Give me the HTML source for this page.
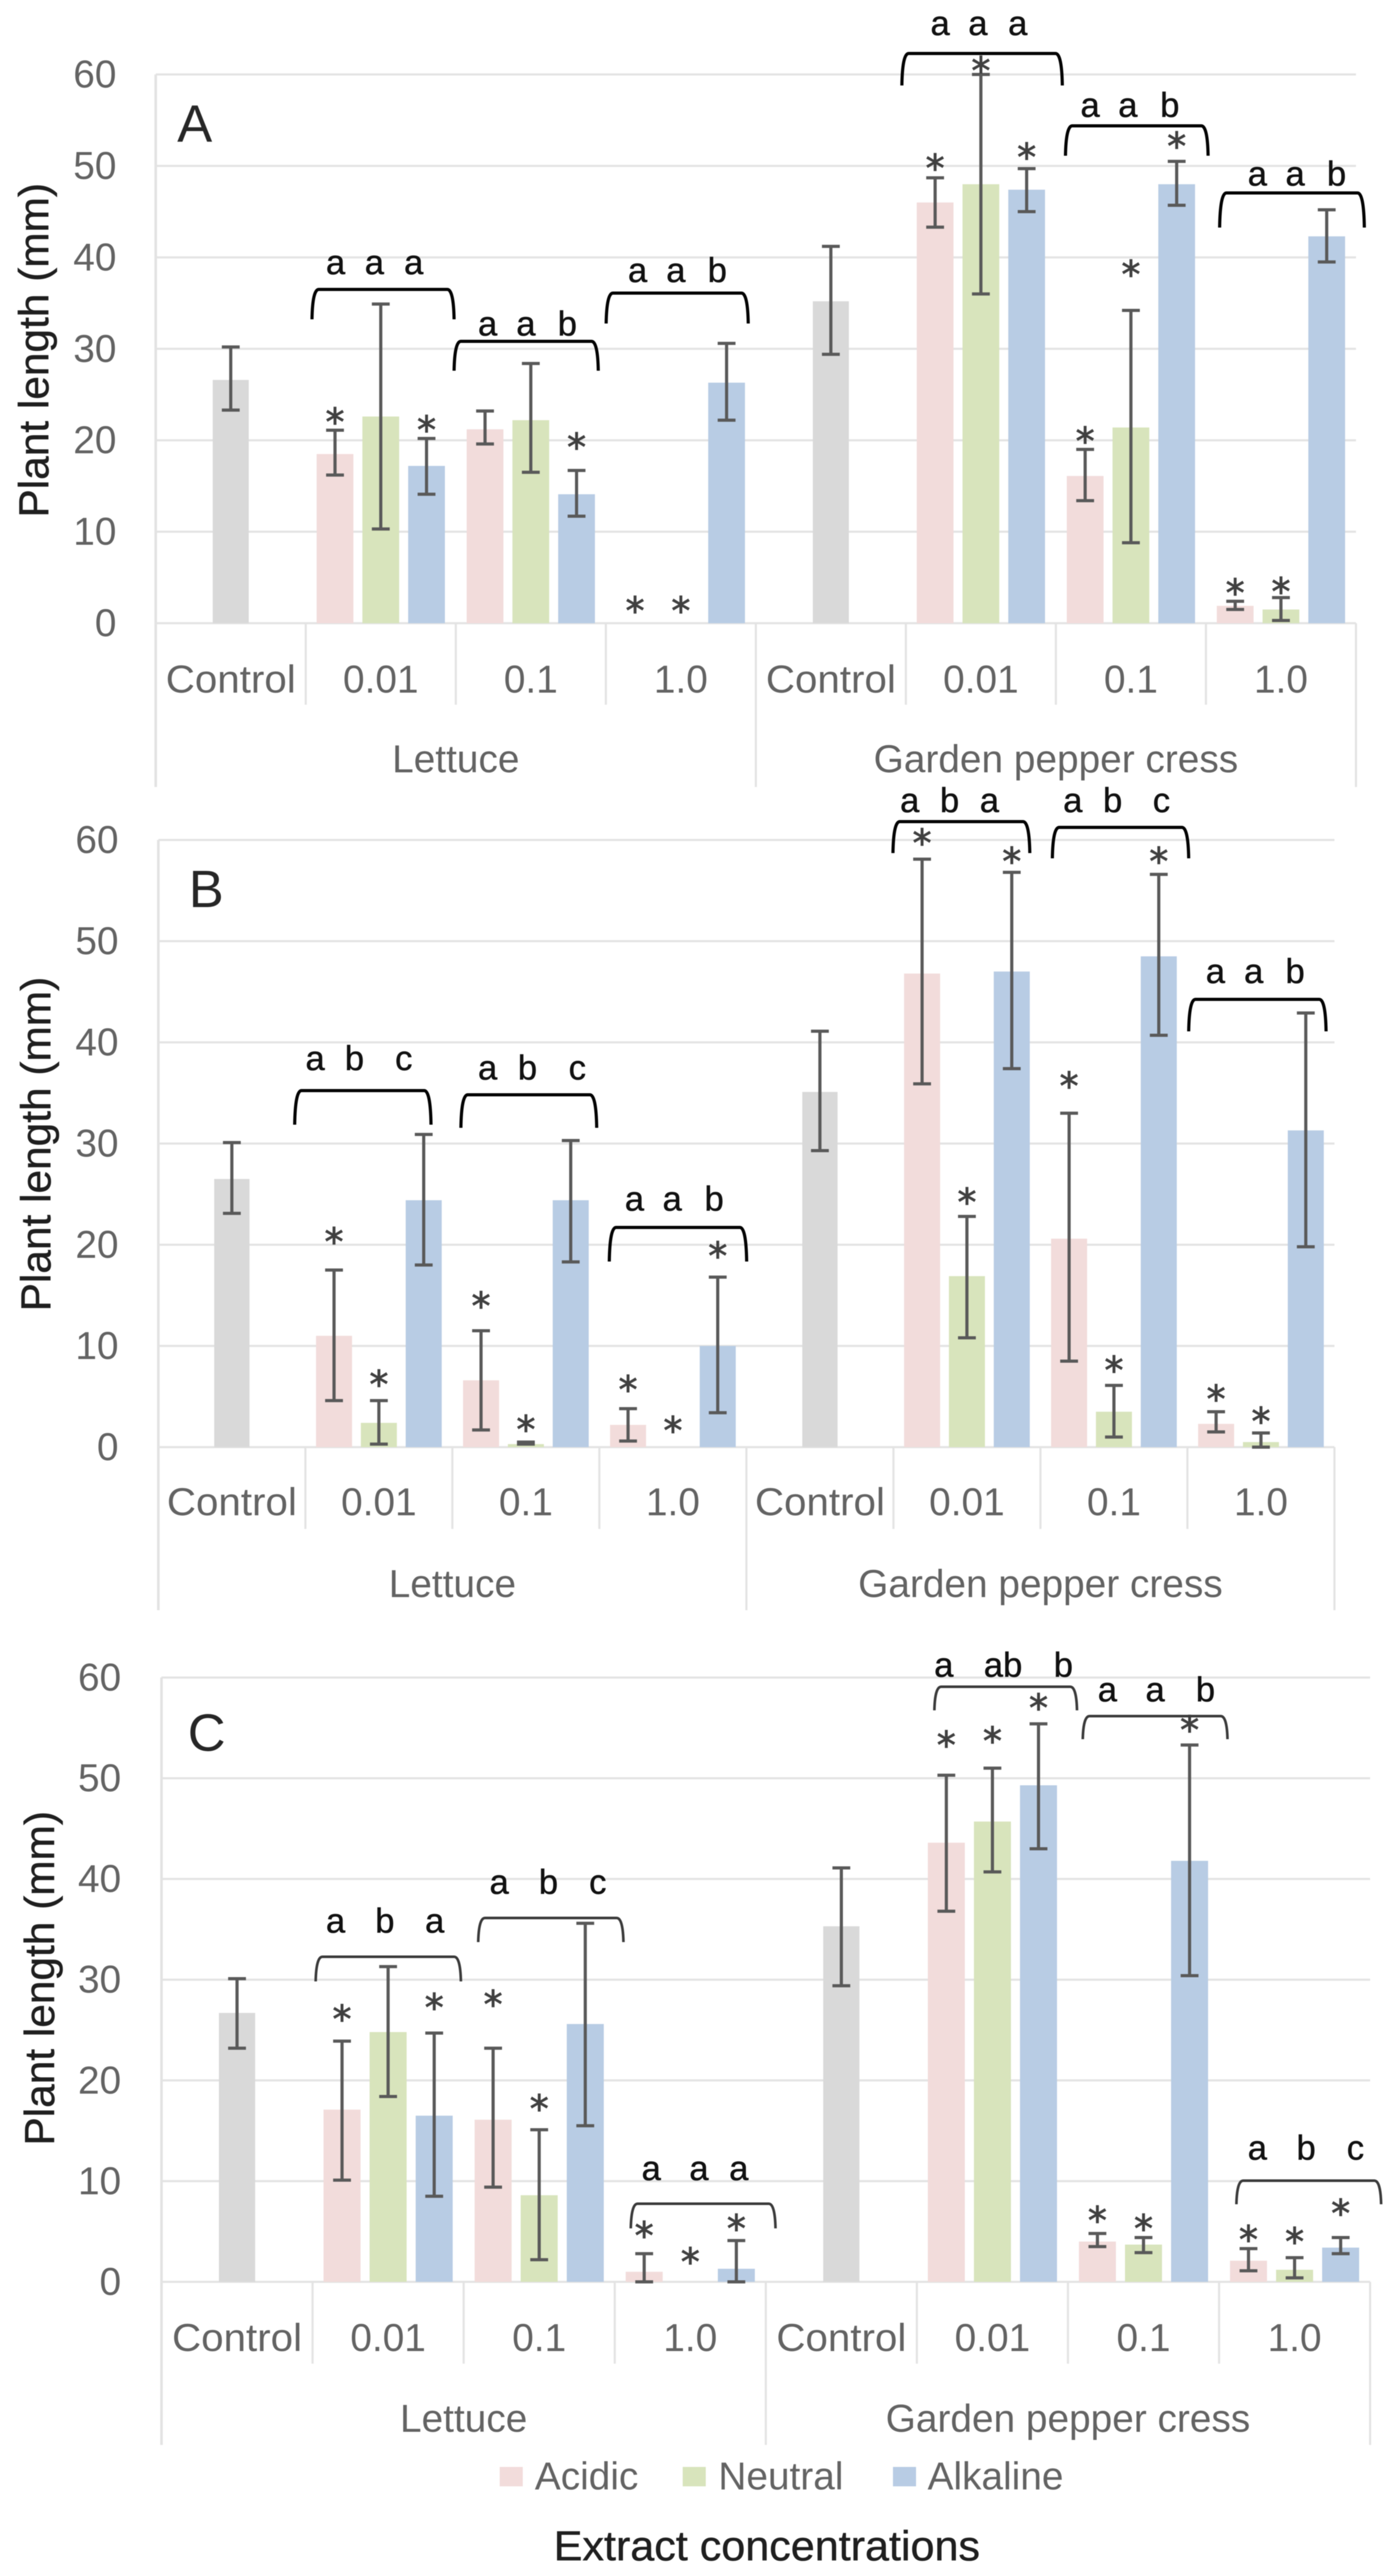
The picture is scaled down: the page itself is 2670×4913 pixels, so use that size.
<!DOCTYPE html>
<html lang="en">
<head>
<meta charset="utf-8">
<title>Plant length by extract concentration</title>
<style>
html,body{margin:0;padding:0;background:#fff;}
#chart{display:block;width:2670px;height:4913px;filter:blur(0.8px);}
text{font-family:"Liberation Sans",sans-serif;}
</style>
</head>
<body>
<svg id="chart" xmlns="http://www.w3.org/2000/svg" width="2670" height="4913" viewBox="0 0 2670 4913"></svg>
<script>
// ---------- shared labels ----------
const yTicks = [0, 10, 20, 30, 40, 50, 60];
const concentrationLabels = ["Control", "0.01", "0.1", "1.0", "Control", "0.01", "0.1", "1.0"];
const plantLabels = ["Lettuce", "Garden pepper cress"];
const legendLabels = ["Acidic", "Neutral", "Alkaline"];

// ---------- panel A values (order: Lettuce 0.01, 0.1, 1.0, Cress 0.01, 0.1, 1.0) ----------
const aControl = [26.6, 35.2];
const aControlHi = [30.2, 41.2];
const aControlLo = [23.3, 29.4];
const aAcidic = [18.5, 21.2, 0, 46, 16.1, 1.9];
const aAcidicHi = [21.1, 23.2, 0, 48.7, 19, 2.4];
const aAcidicLo = [16.2, 19.6, 0, 43.3, 13.4, 1.5];
const aNeutral = [22.6, 22.2, 0, 48, 21.4, 1.5];
const aNeutralHi = [34.9, 28.4, 0, 60, 34.2, 2.8];
const aNeutralLo = [10.3, 16.5, 0, 36, 8.8, 0.3];
const aAlkaline = [17.2, 14.1, 26.3, 47.4, 48, 42.3];
const aAlkalineHi = [20.2, 16.7, 30.6, 49.7, 50.5, 45.2];
const aAlkalineLo = [14.1, 11.7, 22.2, 45, 45.7, 39.5];
// height of each significance star above its whisker, in mm; null = no star
const aAcidicStar = [1.35, null, 1.8, 1.5, 1.35, 1.35];
const aNeutralStar = [null, null, 1.8, 0.85, 4.4, 1.1];
const aAlkalineStar = [1.4, 3.0, null, 1.7, 2.1, null];

// ---------- panel B values ----------
const bControl = [26.5, 35.1];
const bControlHi = [30.1, 41.1];
const bControlLo = [23.1, 29.3];
const bAcidic = [11, 6.6, 2.2, 46.8, 20.6, 2.3];
const bAcidicHi = [17.5, 11.5, 3.8, 58.1, 33, 3.5];
const bAcidicLo = [4.6, 1.7, 0.6, 35.9, 8.5, 1.5];
const bNeutral = [2.4, 0.3, 0, 16.9, 3.5, 0.5];
const bNeutralHi = [4.6, 0.5, 0, 22.8, 6.1, 1.4];
const bNeutralLo = [0.3, 0.3, 0, 10.8, 1, 0];
const bAlkaline = [24.4, 24.4, 10, 47, 48.5, 31.3];
const bAlkalineHi = [30.9, 30.3, 16.8, 56.8, 56.6, 42.9];
const bAlkalineLo = [18, 18.3, 3.4, 37.4, 40.7, 19.8];
const bAcidicStar = [3.2, 2.85, 2.3, 2, 3.1, 1.65];
const bNeutralStar = [2, 1.65, 2.05, 1.8, 1.9, 1.55];
const bAlkalineStar = [null, null, 2.5, 1.5, 1.7, null];

// ---------- panel C values ----------
const cControl = [26.7, 35.3];
const cControlHi = [30.1, 41.1];
const cControlLo = [23.2, 29.4];
const cAcidic = [17.1, 16.1, 1, 43.6, 4, 2.1];
const cAcidicHi = [23.9, 23.2, 2.8, 50.3, 4.8, 3.3];
const cAcidicLo = [10.1, 9.4, 0, 36.8, 3.5, 1.1];
const cNeutral = [24.8, 8.6, 0, 45.7, 3.7, 1.2];
const cNeutralHi = [31.3, 15.1, 0, 51, 4.4, 2.4];
const cNeutralLo = [18.4, 2.2, 0, 40.7, 2.9, 0.4];
const cAlkaline = [16.5, 25.6, 1.3, 49.3, 41.8, 3.4];
const cAlkalineHi = [24.7, 35.6, 4.1, 55.4, 53.3, 4.4];
const cAlkalineLo = [8.5, 15.5, 0, 43, 30.4, 2.8];
const cAcidicStar = [2.6, 4.75, 2.2, 3.4, 1.7, 1.3];
const cNeutralStar = [null, 2.5, 2.4, 3.1, 1.3, 2];
const cAlkalineStar = [2.95, null, 1.6, 2, 1.9, 2.8];

// ---------- styling ----------
const GRID = "#e3e3e3", ERR = "#595959", AXIS_TEXT = "#636363";
const COL_CONTROL = "#d9d9d9", COL_ACIDIC = "#f2dcdb", COL_NEUTRAL = "#d8e4bc", COL_ALKALINE = "#b8cce4";

const svg = document.getElementById("chart");
const NS = "http://www.w3.org/2000/svg";

function mk(tag, props, parent) {
  const el = document.createElementNS(NS, tag);
  for (const k in props) el.setAttribute(k, props[k]);
  (parent || svg).appendChild(el);
  return el;
}

function drawBar(g, x, w, value, hi, lo, star, fill, yOf, catName) {
  const bar = mk("rect", { x: x - w / 2, y: yOf(value), width: w, height: Math.max(0, yOf(0) - yOf(value)), fill: fill }, g);
  
  
  bar.setAttribute('aria-label', catName);
  if (hi > 0) {
    const stem = mk("line", { x1: x, x2: x, y1: yOf(hi), y2: yOf(lo), stroke: ERR, "stroke-width": 6 }, g);
    
    
    const capTop = mk("line", { x1: x - 17, x2: x + 17, y1: yOf(hi), y2: yOf(hi), stroke: ERR, "stroke-width": 6 }, g);
    
    
    const capBot = mk("line", { x1: x - 17, x2: x + 17, y1: yOf(lo), y2: yOf(lo), stroke: ERR, "stroke-width": 6 }, g);
    
    
  }
  if (star !== null && star !== undefined) {
    const s = mk("text", { x: x, y: yOf(hi + star) + 33, "text-anchor": "middle", "font-size": 72, fill: "#404040", stroke: "#404040", "stroke-width": 1.5, style: 'font-family:"DejaVu Sans",sans-serif' }, g);
    s.textContent = "*";
    
    
  }
}

function drawPanel(L, D) {
  const g = mk("g", {});
  
  
  const yOf = v => L.y0 - (v / 60) * (L.y0 - L.top);
  const catW = (L.right - L.left) / 8;
  const xOf = i => L.left + catW * i;

  // gridlines and tick labels
  yTicks.forEach(t => {
    const gl = mk("line", { x1: L.left, x2: L.right, y1: yOf(t), y2: yOf(t), stroke: GRID, "stroke-width": 4 }, g);
    
    
    const tl = mk("text", { x: L.tickX, y: yOf(t) + 25, "text-anchor": "end", "font-size": 74, fill: AXIS_TEXT }, g);
    tl.textContent = String(t);
    
    
  });

  // axis separators
  for (let i = 0; i <= 8; i++) {
    const long = i % 4 === 0;
    const sep = mk("line", { x1: xOf(i), x2: xOf(i), y1: i === 0 ? L.top : L.y0, y2: long ? L.longEnd : L.shortEnd, stroke: GRID, "stroke-width": 4 }, g);
    
    
  }
  const axisTop = mk("line", { x1: L.left, x2: L.left, y1: L.top, y2: L.longEnd, stroke: GRID, "stroke-width": 5 }, g);
  
  

  // category labels
  concentrationLabels.forEach((c, i) => {
    const t = mk("text", { x: xOf(i) + catW / 2, y: L.catBase, "text-anchor": "middle", "font-size": 74, fill: AXIS_TEXT }, g);
    if (c === "Control") { t.setAttribute("textLength", 248); t.setAttribute("lengthAdjust", "spacingAndGlyphs"); }
    t.textContent = c;
    
    
  });
  plantLabels.forEach((c, i) => {
    const t = mk("text", { x: xOf(i * 4 + 2), y: L.plantBase, "text-anchor": "middle", "font-size": 74, fill: AXIS_TEXT }, g);
    t.textContent = c;
    
    
  });

  // control bars
  D.control.forEach((v, i) => {
    const cat = i * 4;
    drawBar(g, xOf(cat) + catW / 2, catW * 0.24, v, D.controlHi[i], D.controlLo[i], null, COL_CONTROL, yOf, "control");
  });
  // treatment bars
  const treatmentCats = [1, 2, 3, 5, 6, 7];
  const off = catW * 0.305, w = catW * 0.245;
  treatmentCats.forEach((cat, i) => {
    const c = xOf(cat) + catW / 2;
    drawBar(g, c - off, w, D.acidic[i], D.acidicHi[i], D.acidicLo[i], D.acidicStar[i], COL_ACIDIC, yOf, "acidic");
    drawBar(g, c, w, D.neutral[i], D.neutralHi[i], D.neutralLo[i], D.neutralStar[i], COL_NEUTRAL, yOf, "neutral");
    drawBar(g, c + off, w, D.alkaline[i], D.alkalineHi[i], D.alkalineLo[i], D.alkalineStar[i], COL_ALKALINE, yOf, "alkaline");
  });

  // panel letter
  const pl = mk("text", { x: L.letterX, y: L.letterY, "font-size": 100, fill: "#262626" }, g);
  pl.textContent = L.letter;
  
  

  // y-axis title
  const yt = mk("text", { transform: "translate(" + L.titleX + "," + L.titleY + ") rotate(-90)", "text-anchor": "middle", "font-size": 80, fill: "#1f1f1f", stroke: "#1f1f1f", "stroke-width": 0.8, textLength: 638, lengthAdjust: "spacingAndGlyphs" }, g);
  yt.textContent = "Plant length (mm)";
  
  
  return g;
}

// significance bracket annotation with three letter labels
function bracket(x1, x2, yTop, yBot, base, x0a, x0b, x0c, la, lb, lc, color, sw) {
  const p = mk("path", { d: "M" + x1 + " " + yBot + " Q" + (x1 + 1) + " " + yTop + " " + (x1 + 13) + " " + yTop + " L" + (x2 - 13) + " " + yTop + " Q" + (x2 - 1) + " " + yTop + " " + x2 + " " + yBot, fill: "none", stroke: color || "#000", "stroke-width": sw || 6 });
  
  
  const t1 = mk("text", { x: x0a, y: base, "text-anchor": "middle", "font-size": 66, fill: "#111", stroke: "#111", "stroke-width": 0.8 });
  t1.textContent = la;
  
  
  const t2 = mk("text", { x: x0b, y: base, "text-anchor": "middle", "font-size": 66, fill: "#111", stroke: "#111", "stroke-width": 0.8 });
  t2.textContent = lb;
  
  
  const t3 = mk("text", { x: x0c, y: base, "text-anchor": "middle", "font-size": 66, fill: "#111", stroke: "#111", "stroke-width": 0.8 });
  t3.textContent = lc;
  
  
}

drawPanel(
  { left: 297, right: 2586, top: 142, y0: 1188.6, shortEnd: 1344, longEnd: 1501, tickX: 222, catBase: 1321, plantBase: 1473, letter: "A", letterX: 338, letterY: 270, titleX: 92, titleY: 668 },
  { control: aControl, controlHi: aControlHi, controlLo: aControlLo, acidic: aAcidic, acidicHi: aAcidicHi, acidicLo: aAcidicLo, neutral: aNeutral, neutralHi: aNeutralHi, neutralLo: aNeutralLo, alkaline: aAlkaline, alkalineHi: aAlkalineHi, alkalineLo: aAlkalineLo, acidicStar: aAcidicStar, neutralStar: aNeutralStar, alkalineStar: aAlkalineStar }
);
drawPanel(
  { left: 302, right: 2545, top: 1602, y0: 2760, shortEnd: 2916, longEnd: 3071, tickX: 226, catBase: 2890, plantBase: 3046, letter: "B", letterX: 360, letterY: 1730, titleX: 96, titleY: 2182 },
  { control: bControl, controlHi: bControlHi, controlLo: bControlLo, acidic: bAcidic, acidicHi: bAcidicHi, acidicLo: bAcidicLo, neutral: bNeutral, neutralHi: bNeutralHi, neutralLo: bNeutralLo, alkaline: bAlkaline, alkalineHi: bAlkalineHi, alkalineLo: bAlkalineLo, acidicStar: bAcidicStar, neutralStar: bNeutralStar, alkalineStar: bAlkalineStar }
);
drawPanel(
  { left: 308, right: 2613, top: 3199.4, y0: 4352, shortEnd: 4508, longEnd: 4663, tickX: 231, catBase: 4484, plantBase: 4638, letter: "C", letterX: 358, letterY: 3339, titleX: 103, titleY: 3773 },
  { control: cControl, controlHi: cControlHi, controlLo: cControlLo, acidic: cAcidic, acidicHi: cAcidicHi, acidicLo: cAcidicLo, neutral: cNeutral, neutralHi: cNeutralHi, neutralLo: cNeutralLo, alkaline: cAlkaline, alkalineHi: cAlkalineHi, alkalineLo: cAlkalineLo, acidicStar: cAcidicStar, neutralStar: cNeutralStar, alkalineStar: cAlkalineStar }
);

// Panel A brackets
bracket(595, 866, 552, 609, 523, 640, 714, 789, "a", "a", "a");
bracket(866, 1141, 651, 707, 640, 930, 1003, 1082, "a", "a", "b");
bracket(1156, 1427, 559, 617, 538, 1216, 1289, 1368, "a", "a", "b");
bracket(1720, 2026, 102, 163, 67, 1793, 1865, 1941, "a", "a", "a");
bracket(2032, 2304, 240, 297, 223, 2079, 2151, 2231, "a", "a", "b");
bracket(2326, 2602, 368, 434, 354, 2398, 2470, 2549, "a", "a", "b");
// Panel B brackets
bracket(562, 822, 2080, 2145, 2041, 601, 676, 770, "a", "b", "c");
bracket(879, 1138, 2088, 2151, 2059, 930, 1006, 1101, "a", "b", "c");
bracket(1162, 1424, 2341, 2406, 2309, 1210, 1282, 1362, "a", "a", "b");
bracket(1703, 1964, 1567, 1627, 1549, 1735, 1811, 1887, "a", "b", "a");
bracket(2007, 2267, 1578, 1637, 1549, 2046, 2122, 2215, "a", "b", "c");
bracket(2267, 2529, 1906, 1967, 1875, 2318, 2391, 2470, "a", "a", "b");
// Panel C brackets
bracket(602, 879, 3732, 3779, 3686, 640, 734, 829, "a", "b", "a", "#3a3a3a", 5);
bracket(912, 1189, 3658, 3704, 3612, 952, 1046, 1140, "a", "b", "c", "#3a3a3a", 5);
bracket(1203, 1479, 4203, 4250, 4158, 1242, 1333, 1409, "a", "a", "a", "#3a3a3a", 5);
bracket(1782, 2054, 3217, 3262, 3198, 1800, 1913, 2028, "a", "ab", "b", "#3a3a3a", 5);
bracket(2065, 2341, 3273, 3317, 3245, 2112, 2203, 2299, "a", "a", "b", "#3a3a3a", 5);
bracket(2358, 2634, 4159, 4204, 4119, 2398, 2491, 2585, "a", "b", "c", "#3a3a3a", 5);

// Legend
const legend = mk("g", {});


[[953, 1020, COL_ACIDIC], [1302, 1370, COL_NEUTRAL], [1703, 1769, COL_ALKALINE]].forEach((e, i) => {
  const sw = mk("rect", { x: e[0], y: 4705, width: 44, height: 37, fill: e[2] }, legend);
  
  
  const tx = mk("text", { x: e[1], y: 4748, "font-size": 74, fill: AXIS_TEXT }, legend);
  tx.textContent = legendLabels[i];
  
  
});

// X-axis title
const xTitle = mk("text", { x: 1056, y: 4883, "font-size": 80, fill: "#1f1f1f", stroke: "#1f1f1f", "stroke-width": 0.8, textLength: 813, lengthAdjust: "spacingAndGlyphs" });
xTitle.textContent = "Extract concentrations";


</script>
</body>
</html>
